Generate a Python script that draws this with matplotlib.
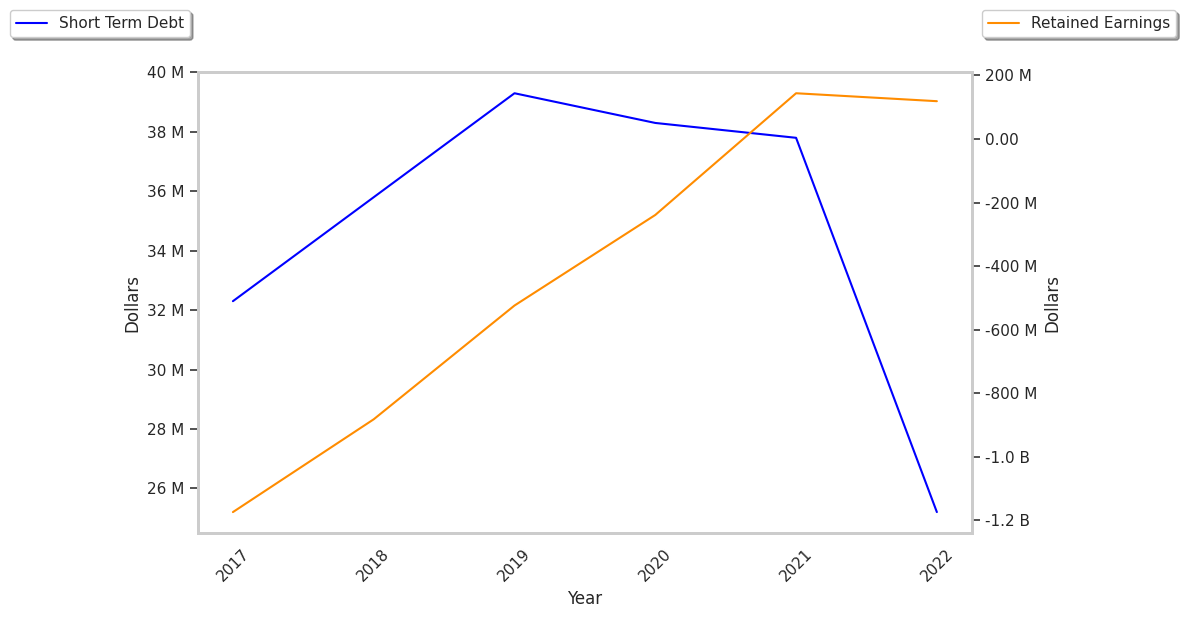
import matplotlib
matplotlib.use("Agg")
import matplotlib.pyplot as plt
from matplotlib.ticker import FuncFormatter
import seaborn as sns

years = ["2017", "2018", "2019", "2020", "2021", "2022"]
short_term_debt = [32.3e6, 35.8e6, 39.3e6, 38.3e6, 37.8e6, 25.2e6]
retained_earnings = [-1174e6, -882e6, -524e6, -239e6, 144e6, 119e6]


def money(x, pos):
    if abs(x) >= 1e9:
        return f"{x/1e9:.1f} B"
    if abs(x) >= 1e6:
        return f"{x/1e6:.0f} M"
    return f"{x:.2f}"


sns.set_theme(style="white")

fig, ax = plt.subplots(figsize=(11.84, 6.18), dpi=100)
fig.subplots_adjust(left=0.167, right=0.821, top=0.883, bottom=0.1375)
ax2 = ax.twinx()

ax.plot(years, short_term_debt, color="blue", label="Short Term Debt")
ax2.plot(years, retained_earnings, color="darkorange", label="Retained Earnings")

ax.yaxis.set_major_formatter(FuncFormatter(money))
ax2.yaxis.set_major_formatter(FuncFormatter(money))

ax.set_xlabel("Year")
ax.set_ylabel("Dollars")
ax2.set_ylabel("Dollars")
for lbl in ax.get_xticklabels():
    lbl.set_rotation(45)

ax.tick_params(axis="y", left=True, length=6, width=1.2, color="#333333")
ax2.tick_params(axis="y", right=True, length=6, width=1.2, color="#333333")
ax.tick_params(axis="x", bottom=False)

for a in (ax, ax2):
    for s in a.spines.values():
        s.set_color("#cccccc")
        s.set_linewidth(2)

fig.legend(handles=ax.get_lines(), loc="upper left", bbox_to_anchor=(0.002, 0.996),
           shadow=True, fancybox=True, fontsize=11)
fig.legend(handles=ax2.get_lines(), loc="upper right", bbox_to_anchor=(1.0, 0.996),
           shadow=True, fancybox=True, fontsize=11)

fig.savefig("out.png", dpi=100)
